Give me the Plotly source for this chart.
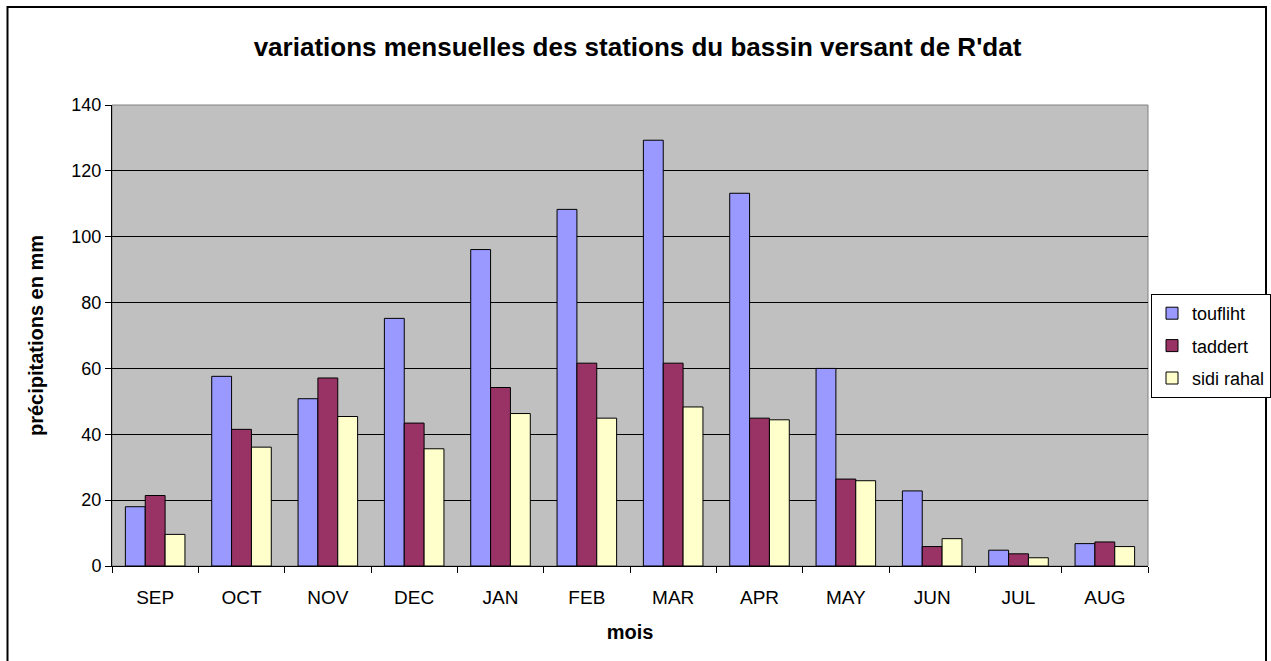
import plotly.graph_objects as go

months = ["SEP", "OCT", "NOV", "DEC", "JAN", "FEB", "MAR", "APR", "MAY", "JUN", "JUL", "AUG"]
toufliht = [18.0, 57.6, 50.8, 75.2, 96.1, 108.3, 129.3, 113.2, 60.0, 22.8, 4.8, 6.8]
taddert = [21.4, 41.5, 57.1, 43.4, 54.2, 61.6, 61.6, 44.9, 26.4, 5.9, 3.7, 7.3]
sidi_rahal = [9.6, 36.1, 45.4, 35.6, 46.3, 44.9, 48.3, 44.4, 25.9, 8.3, 2.5, 5.9]

series = [("toufliht", toufliht, "#9999FF"),
          ("taddert", taddert, "#993366"),
          ("sidi rahal", sidi_rahal, "#FFFFCC")]

FONT = "Arial, Liberation Sans, sans-serif"

fig = go.Figure()
for name, vals, col in series:
    fig.add_trace(go.Bar(x=months, y=vals, name=name, legendgroup=name,
                         marker=dict(color=col, line=dict(color="black", width=1))))

W, H = 1271, 661
L, R, T, B = 112, 1148, 105, 566
pw, ph = R - L, B - T

def px(x):
    return (x - L) / pw

def py(y):
    return (B - y) / ph

fig.update_layout(
    width=W, height=H,
    margin=dict(l=L, r=W - R, t=T, b=H - B, autoexpand=False),
    paper_bgcolor="white", plot_bgcolor="#C0C0C0",
    barmode="group", bargap=0.31, bargroupgap=0,
    font=dict(family=FONT, color="black", size=18),
    title=dict(text="<b>variations mensuelles des stations du bassin versant de R'dat</b>",
               x=637.5 / W, xanchor="center", y=1 - 47 / H, yanchor="middle",
               font=dict(size=26, family=FONT)),
    legend=dict(x=px(1151), xanchor="left", y=py(294), yanchor="top",
                bgcolor="white", bordercolor="black", borderwidth=1,
                font=dict(size=18, family=FONT), tracegroupgap=6,
                itemwidth=30),
    xaxis=dict(showline=True, linecolor="black", linewidth=1, ticks="outside",
               tickson="boundaries", ticklen=6, tickcolor="black",
               tickfont=dict(size=19), ticklabelstandoff=14,
               title=dict(text="<b>mois</b>", font=dict(size=20), standoff=18)),
    yaxis=dict(range=[0, 140], dtick=20, showline=True, linecolor="black", linewidth=1,
               ticks="outside", ticklen=6, tickcolor="black", gridcolor="black",
               gridwidth=1, tickfont=dict(size=18), zeroline=False,
               title=dict(text="<b>précipitations en mm</b>", font=dict(size=20), standoff=22)),
    shapes=[
        dict(type="rect", xref="paper", yref="paper", x0=0, x1=1, y0=0, y1=1,
             line=dict(color="#808080", width=1), layer="below"),
        dict(type="rect", xref="paper", yref="paper", x0=px(7.5), x1=px(1266),
             y0=py(7), y1=py(680), line=dict(color="black", width=2)),
    ],
)

fig.write_html("out.html", config={"displayModeBar": False},
               post_script="document.body.style.margin='0px';")
